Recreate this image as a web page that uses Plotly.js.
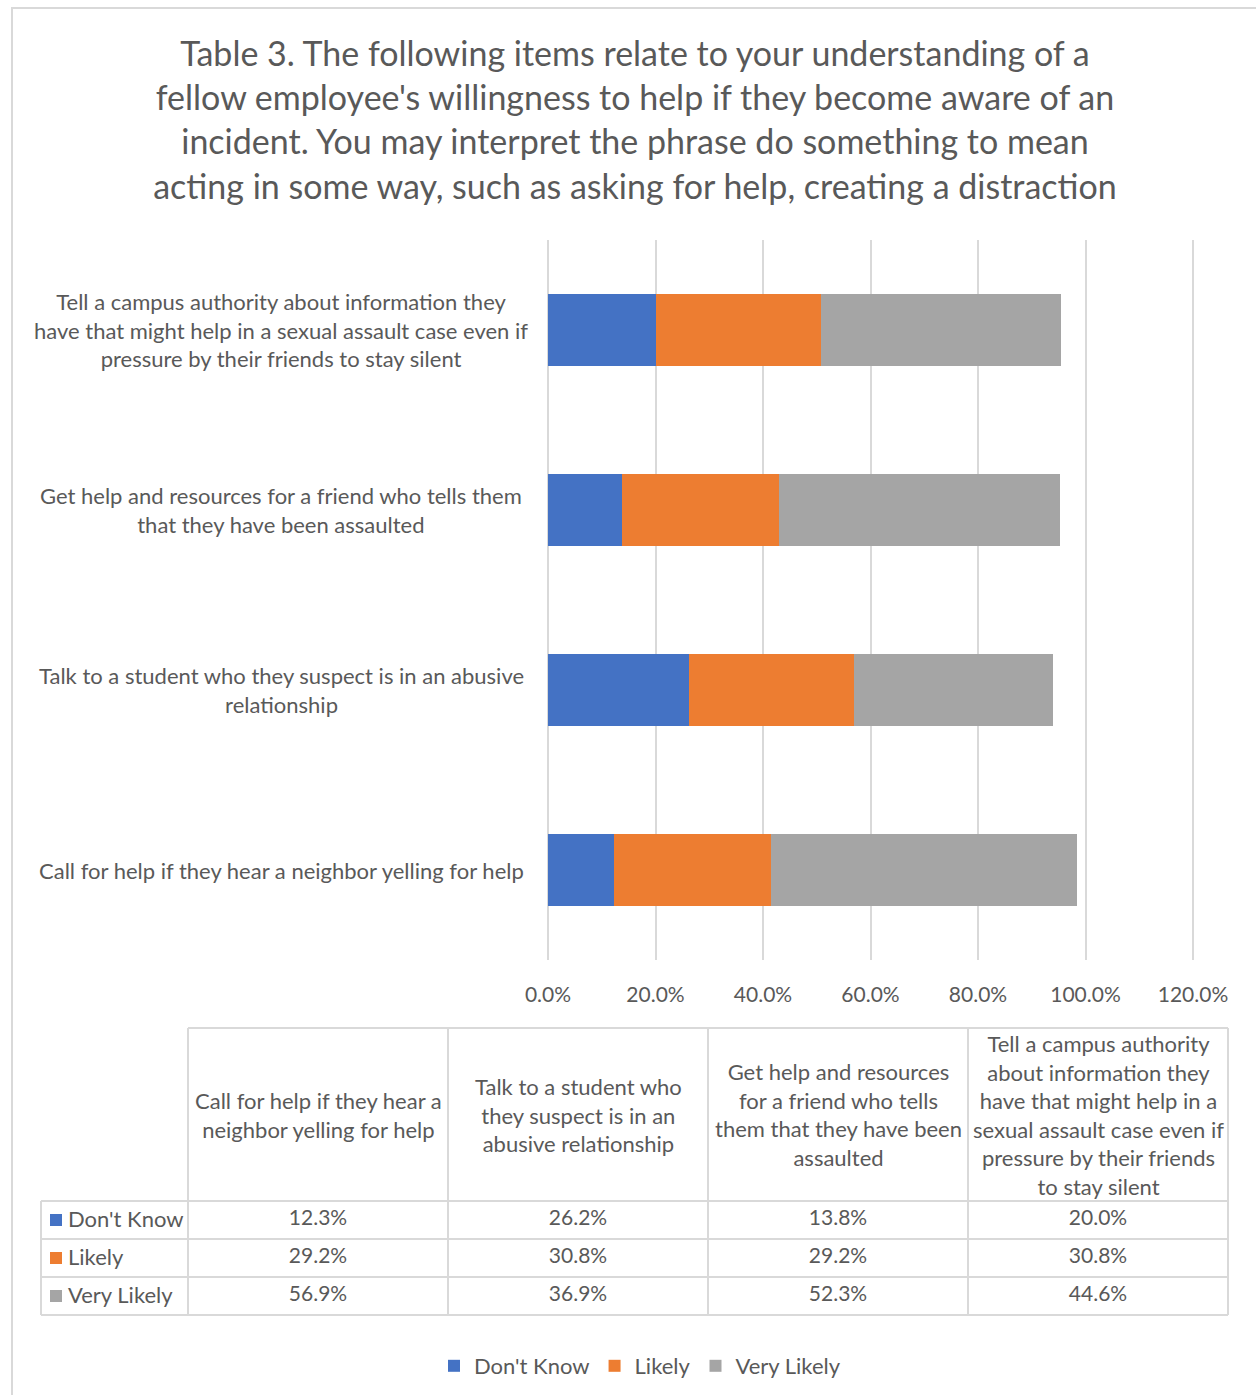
<!DOCTYPE html>
<html>
<head>
<meta charset="utf-8">
<script src="https://cdn.plot.ly/plotly-3.0.1.min.js"></script>
<style>
  html, body { margin: 0; padding: 0; background: #ffffff; }
  #chart { width: 1256px; height: 1395px; }
</style>
</head>
<body>
<div id="chart"></div>
<script>
// ---------------- DATA ----------------
const categories = [
  "Call for help if they hear a neighbor yelling for help",
  "Talk to a student who they suspect is in an abusive relationship",
  "Get help and resources for a friend who tells them that they have been assaulted",
  "Tell a campus authority about information they have that might help in a sexual assault case even if pressure by their friends to stay silent"
];
const axisLabels = [
  "Call for help if they hear a neighbor yelling for help",
  "Talk to a student who they suspect is in an abusive<br>relationship",
  "Get help and resources for a friend who tells them<br>that they have been assaulted",
  "Tell a campus authority about information they<br>have that might help in a sexual assault case even if<br>pressure by their friends to stay silent"
];
const tableHeaders = [
  "Call for help if they hear a<br>neighbor yelling for help",
  "Talk to a student who<br>they suspect is in an<br>abusive relationship",
  "Get help and resources<br>for a friend who tells<br>them that they have been<br>assaulted",
  "Tell a campus authority<br>about information they<br>have that might help in a<br>sexual assault case even if<br>pressure by their friends<br>to stay silent"
];
const seriesNames = ["Don't Know", "Likely", "Very Likely"];
const dontKnow   = [12.3, 26.2, 13.8, 20.0];
const likely     = [29.2, 30.8, 29.2, 30.8];
const veryLikely = [56.9, 36.9, 52.3, 44.6];
const xTickValues = [0, 20, 40, 60, 80, 100, 120];
const titleText = "Table 3. The following items relate to your understanding of a<br>fellow employee's willingness to help if they become aware of an<br>incident. You may interpret the phrase do something to mean<br>acting in some way, such as asking for help, creating a distraction";

// ---------------- STYLE ----------------
const seriesValues = [dontKnow, likely, veryLikely];
const seriesColors = ["#4472C4", "#ED7D31", "#A5A5A5"];
const FONT = "Lato, 'Open Sans', sans-serif";
const TXT = "#595959";
const LINE = "#d9d9d9";
const W = 1256, H = 1395;
const px = v => v / W;
const py = v => 1 - v / H;
const LBL = 22, NUM = 21;

const traces = [];
// stacked bars
seriesNames.forEach((name, i) => {
  traces.push({
    type: "bar",
    orientation: "h",
    name: name,
    y: categories,
    x: seriesValues[i],
    width: 0.4,
    marker: { color: seriesColors[i] },
    xaxis: "x", yaxis: "y",
    hoverinfo: "x+name"
  });
});
// table values (text)
seriesNames.forEach((name, i) => {
  traces.push({
    type: "scatter",
    mode: "text",
    x: categories,
    y: categories.map(() => name),
    text: seriesValues[i].map(v => v.toFixed(1) + "%"),
    textposition: "middle center",
    textfont: { family: FONT, size: NUM, color: TXT },
    showlegend: false,
    hoverinfo: "skip",
    xaxis: "x2", yaxis: "y2",
    cliponaxis: false
  });
});

// table geometry (in x2 / y2 units)
const colW = 260, rowH = 38, headH = 173, labelW = 147, pad = 3;
const x2min = -0.5 - (labelW + pad) / colW;
const x2max = categories.length - 0.5 + pad / colW;
const labelLeft = -0.5 - labelW / colW;
const nRows = seriesNames.length;
const headTop = nRows - 0.5 + headH / rowH;
const y2min = -0.5 - pad / rowH;
const y2max = headTop + pad / rowH;
const rowOrder = seriesNames.slice().reverse(); // bottom -> top
const rowIndex = name => rowOrder.indexOf(name);

const shapes = [];
// outer frame of the chart area
shapes.push({ type: "rect", xref: "paper", yref: "paper", x0: px(12), x1: 1.05, y0: -0.05, y1: py(8),
  line: { color: LINE, width: 2 }, fillcolor: "rgba(0,0,0,0)", layer: "below" });
const tl = (x0, y0, x1, y1) => shapes.push({ type: "line", xref: "x2", yref: "y2", x0, y0, x1, y1,
  line: { color: LINE, width: 2 } });
// horizontal lines
tl(-0.5, headTop, categories.length - 0.5, headTop);
for (let r = -0.5; r <= nRows - 0.5 + 1e-9; r += 1) tl(labelLeft, r, categories.length - 0.5, r);
// vertical lines
tl(labelLeft, -0.5, labelLeft, nRows - 0.5);
for (let c = -0.5; c <= categories.length - 0.5 + 1e-9; c += 1) tl(c, -0.5, c, headTop);
// color keys in table
seriesNames.forEach((name, i) => {
  const yi = rowIndex(name);
  shapes.push({ type: "rect", xref: "x2", yref: "y2",
    x0: labelLeft + 9 / colW, x1: labelLeft + 21 / colW,
    y0: yi - 6 / rowH, y1: yi + 6 / rowH,
    fillcolor: seriesColors[i], line: { width: 0 } });
});

const annotations = [];
// category labels on the left of bars
categories.forEach((c, i) => {
  annotations.push({ xref: "paper", yref: "y", x: px(281), y: c, text: axisLabels[i],
    showarrow: false, xanchor: "center", yanchor: "middle", align: "center",
    font: { family: FONT, size: LBL, color: TXT } });
});
// table headers
categories.forEach((c, i) => {
  annotations.push({ xref: "x2", yref: "y2", x: i, y: (nRows - 0.5 + headTop) / 2, text: tableHeaders[i],
    showarrow: false, xanchor: "center", yanchor: "middle", align: "center",
    font: { family: FONT, size: LBL, color: TXT } });
});
// table row labels
seriesNames.forEach((name) => {
  annotations.push({ xref: "x2", yref: "y2", x: labelLeft + 25 / colW, y: rowIndex(name), text: name,
    showarrow: false, xanchor: "left", yanchor: "middle", align: "left", yshift: 2,
    font: { family: FONT, size: LBL, color: TXT } });
});

// x axis: 120 at pixel 1193, range extended slightly so the 120 gridline shows
const xPx0 = 548, xPx120 = 1193, xMax = 121;
const xPxMax = xPx0 + (xPx120 - xPx0) * xMax / 120;

const layout = {
  width: W, height: H,
  margin: { l: 0, r: 0, t: 0, b: 0, pad: 0 },
  paper_bgcolor: "#ffffff", plot_bgcolor: "rgba(0,0,0,0)",
  font: { family: FONT, color: TXT },
  title: { text: titleText, x: px(635), xanchor: "center", y: py(66), yanchor: "top", xref: "container", yref: "container",
    font: { family: FONT, size: 34, color: TXT } },
  barmode: "stack",
  showlegend: true,
  legend: { orientation: "h", x: px(640), xanchor: "center", y: py(1366), yanchor: "middle",
    font: { family: FONT, size: LBL, color: TXT }, traceorder: "normal" },
  xaxis: {
    domain: [px(xPx0), px(xPxMax)], range: [0, xMax],
    tickmode: "array", tickvals: xTickValues, ticktext: xTickValues.map(v => v.toFixed(1) + "%"),
    showgrid: true, gridcolor: LINE, gridwidth: 2,
    zeroline: true, zerolinecolor: LINE, zerolinewidth: 2,
    showline: false, ticks: "", ticklabelstandoff: 20,
    tickfont: { family: FONT, size: NUM, color: TXT }, anchor: "y", fixedrange: true
  },
  yaxis: {
    domain: [py(960), py(240)], range: [-0.5, categories.length - 0.5],
    type: "category", categoryorder: "array", categoryarray: categories,
    showticklabels: false, showgrid: false, zeroline: false, showline: false, ticks: "",
    anchor: "x", fixedrange: true
  },
  xaxis2: {
    domain: [px(41 - pad), px(1228 + pad)], range: [x2min, x2max],
    type: "category", categoryorder: "array", categoryarray: categories,
    visible: false, anchor: "y2", fixedrange: true
  },
  yaxis2: {
    domain: [py(1315 + pad), py(1028 - pad)], range: [y2min, y2max],
    type: "category", categoryorder: "array", categoryarray: rowOrder,
    visible: false, anchor: "x2", fixedrange: true
  },
  shapes: shapes,
  annotations: annotations
};

Plotly.newPlot("chart", traces, layout, { displayModeBar: false, responsive: false });
</script>
</body>
</html>
